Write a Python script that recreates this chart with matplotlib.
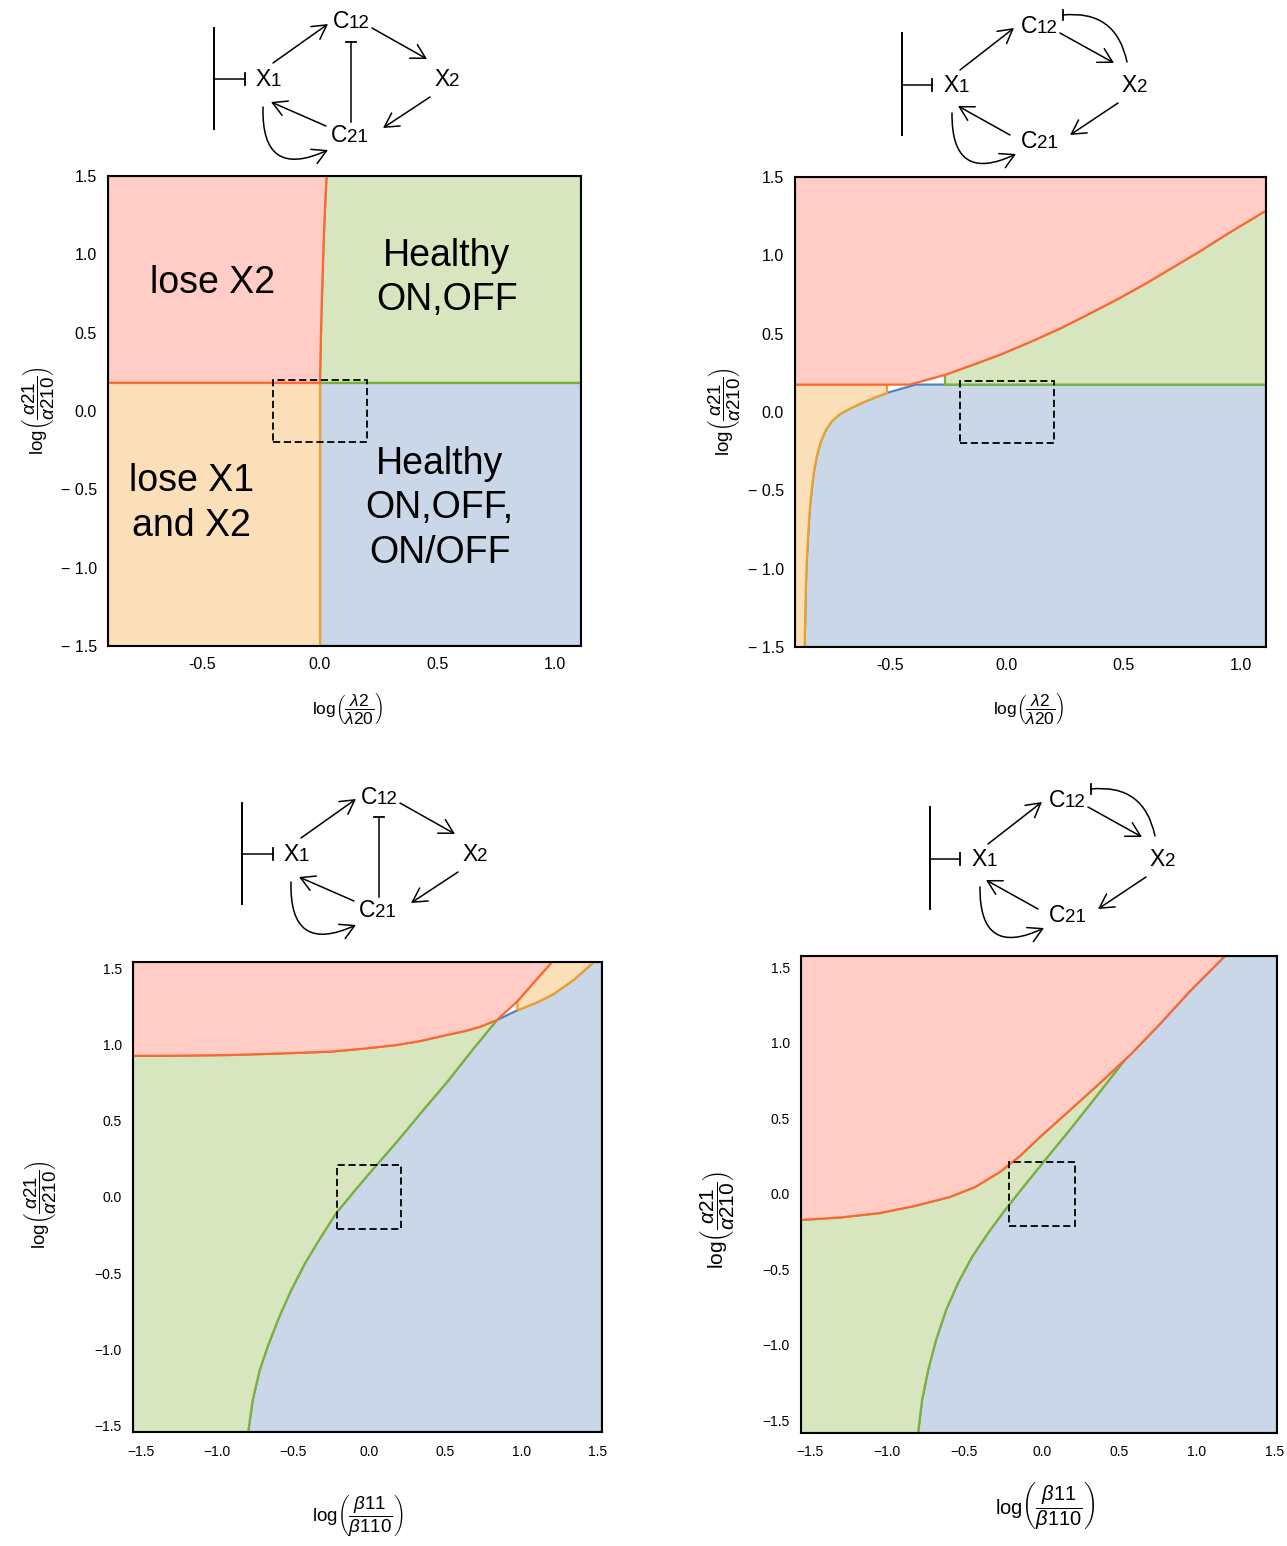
import numpy as np
import matplotlib
matplotlib.use("Agg")
import matplotlib.pyplot as plt
from matplotlib.patches import FancyArrowPatch, Rectangle

plt.rcParams['font.family'] = ['Liberation Sans', 'DejaVu Sans']
plt.rcParams['mathtext.fontset'] = 'custom'
plt.rcParams['mathtext.rm'] = 'Liberation Sans'
plt.rcParams['mathtext.it'] = 'Liberation Sans:italic'

W, H = 1287, 1546

FILL = {'red': '#FFCDC5', 'orange': '#FBDFB9', 'green': '#D8E6BF', 'blue': '#C9D7E8'}
EDGE = {'red': '#FF6633', 'orange': '#F0A023', 'green': '#7DB235', 'blue': '#4A86C4'}

# ---- panel 1: log(l2/l20) vs log(a21/a210), C21 -| C12 network
P1_XLIM = (-0.902, 1.111)
P1_YLIM = (-1.5, 1.5)
P1_SPLIT = 0.18
P1_RED_X = [0.000, 0.001, 0.003, 0.006, 0.010, 0.015, 0.021, 0.028]
P1_RED_Y = [0.18, 0.25, 0.40, 0.60, 0.80, 1.05, 1.28, 1.50]
P1_TEXT = [("lose X2", -0.455, 0.82),
           ("Healthy\nON,OFF", 0.54, 0.85),
           ("lose X1\nand X2", -0.545, -0.59),
           ("Healthy\nON,OFF,\nON/OFF", 0.51, -0.62)]

# ---- panel 2: same axes, X2 -| C12 network
P2_XLIM = (-0.906, 1.107)
P2_YLIM = (-1.5, 1.5)
P2_SPLIT = 0.175
P2_RED_X = [-0.415, -0.265, -0.150, -0.030, 0.098, 0.226, 0.346, 0.470,
            0.590, 0.709, 0.825, 0.940, 1.021, 1.107]
P2_RED_Y = [0.175, 0.237, 0.299, 0.365, 0.446, 0.532, 0.622, 0.718,
            0.817, 0.923, 1.026, 1.135, 1.208, 1.285]
P2_GREEN_X0 = -0.265
P2_ORANGE_X = [-0.513, -0.564, -0.615, -0.671, -0.714, -0.748, -0.774, -0.795,
               -0.812, -0.825, -0.835, -0.844, -0.850, -0.857, -0.861, -0.865]
P2_ORANGE_Y = [0.122, 0.093, 0.061, 0.022, -0.013, -0.058, -0.115, -0.186,
               -0.276, -0.378, -0.50, -0.641, -0.788, -0.981, -1.205, -1.5]
P2_BLUE_X = [-0.513, -0.39]
P2_BLUE_Y = [0.122, 0.175]

# ---- panel 3: log(b11/b110) vs log(a21/a210), C21 -| C12 network
P3_XLIM = (-1.553, 1.531)
P3_YLIM = (-1.546, 1.546)
P3_RED_X = [-1.553, -1.243, -0.914, -0.586, -0.257, -0.026, 0.182, 0.336,
            0.511, 0.632, 0.730, 0.840]
P3_RED_Y = [0.928, 0.930, 0.934, 0.944, 0.956, 0.977, 1.000, 1.026,
            1.066, 1.092, 1.120, 1.164]
P3_REDLINE_X = [0.840, 0.972, 1.202]
P3_REDLINE_Y = [1.164, 1.285, 1.546]
P3_GREEN_X = [0.840, 0.678, 0.507, 0.355, 0.230, 0.135, 0.020, -0.092, -0.217,
              -0.322, -0.421, -0.513, -0.592, -0.664, -0.720, -0.766, -0.796]
P3_GREEN_Y = [1.164, 0.967, 0.750, 0.572, 0.421, 0.309, 0.178, 0.046, -0.105,
              -0.270, -0.434, -0.612, -0.789, -0.974, -1.138, -1.336, -1.546]
P3_ORANGE_X = [0.978, 1.103, 1.213, 1.344, 1.476]
P3_ORANGE_Y = [1.230, 1.280, 1.336, 1.428, 1.546]

# ---- panel 4: same axes, X2 -| C12 network
P4_XLIM = (-1.555, 1.516)
P4_YLIM = (-1.583, 1.576)
P4_RED_X = [-1.555, -1.303, -1.045, -0.819, -0.594, -0.432, -0.271, -0.142,
            -0.013, 0.181, 0.374, 0.568, 0.761, 0.955, 1.180]
P4_RED_Y = [-0.172, -0.156, -0.126, -0.079, -0.020, 0.046, 0.146, 0.252,
            0.377, 0.556, 0.735, 0.921, 1.126, 1.344, 1.576]
P4_GREEN_X = [-0.800, -0.774, -0.735, -0.684, -0.619, -0.542, -0.452, -0.348,
              -0.239, -0.116, 0.019, 0.168, 0.342, 0.535]
P4_GREEN_Y = [-1.583, -1.364, -1.166, -0.967, -0.768, -0.589, -0.417, -0.258,
              -0.106, 0.053, 0.225, 0.411, 0.636, 0.889]

TOP_XT = [-0.5, 0.0, 0.5, 1.0]
TOP_XTL = ['-0.5', '0.0', '0.5', '1.0']
TOP_YT = [-1.5, -1.0, -0.5, 0.0, 0.5, 1.0, 1.5]
TOP_YTL = ['\u2212 1.5', '\u2212 1.0', '\u2212 0.5', '0.0', '0.5', '1.0', '1.5']
BOT_T = [-1.5, -1.0, -0.5, 0.0, 0.5, 1.0, 1.5]
BOT_TL = ['\u22121.5', '\u22121.0', '\u22120.5', '0.0', '0.5', '1.0', '1.5']

YLAB = r'$\log\!\left(\dfrac{\alpha21}{\alpha210}\right)$'
XLAB_L = r'$\log\!\left(\dfrac{\lambda2}{\lambda20}\right)$'
XLAB_B = r'$\log\!\left(\dfrac{\beta11}{\beta110}\right)$'

# network diagrams, in figure pixels (panel 1 / panel 2 positions)
DIAG_A = dict(
    bar=((214, 28), (214, 129)),
    inhib=((214, 79), (245, 79)),
    nodes=[('X', '1', 270.5, 86), ('C', '12', 349, 28.5),
           ('X', '2', 449.5, 86), ('C', '21', 347.5, 141.7)],
    arrows=[((273, 63), (328, 24)), ((372, 28), (427, 59)),
            ((430, 97), (383, 128)), ((326, 126), (271, 102))],
    loop=((263, 107), (328, 150), 0.8),
    tline=((351, 122), (351, 42)),
    tcurve=None)
DIAG_B = dict(
    bar=((902, 33), (902, 135)),
    inhib=((902, 85), (932, 85)),
    nodes=[('X', '1', 958.5, 91.7), ('C', '12', 1037, 33.3),
           ('X', '2', 1137, 91.7), ('C', '21', 1037, 148.3)],
    arrows=[((960, 70), (1014, 28)), ((1060, 33), (1114, 63)),
            ((1118, 103), (1070, 135)), ((1010, 135), (958, 106))],
    loop=((952, 113), (1016, 154), 0.8),
    tline=None,
    tcurve=((1127, 62), (1063, 15), 0.45))

fig = plt.figure(figsize=(W / 100, H / 100), dpi=100)


def px_axes(l, t, r, b):
    return fig.add_axes([l / W, 1 - b / H, (r - l) / W, (b - t) / H])


def region(ax, xs, ys, key, z):
    ax.fill(xs, ys, facecolor=FILL[key], edgecolor=EDGE[key], lw=1.6, zorder=z)


def style(ax, xlim, ylim, xt, xtl, yt, ytl, fs, xpad, ypad):
    ax.set_xlim(xlim)
    ax.set_ylim(ylim)
    ax.set_xticks(xt, xtl)
    ax.set_yticks(yt, ytl)
    ax.tick_params(axis='x', length=0, labelsize=fs, pad=xpad)
    ax.tick_params(axis='y', length=0, labelsize=fs, pad=ypad)
    for s in ax.spines.values():
        s.set_linewidth(1.5)
        s.set_zorder(10)


def box(ax, h):
    ax.add_patch(Rectangle((-h, -h), 2 * h, 2 * h, fill=False, ec='black',
                           lw=1.3, ls=(0, (4, 2)), zorder=6))


def label(text, x, y, size, rot=0):
    fig.text(x / W, 1 - y / H, text, fontsize=size, rotation=rot,
             ha='center', va='center')


# ---------------- panel 1
ax1 = px_axes(108, 176, 581, 646)
xl, xr = P1_XLIM
yb, yt = P1_YLIM
s = P1_SPLIT
x0 = P1_RED_X[0]
region(ax1, [x0, xr, xr, x0], [yb, yb, s, s], 'blue', 1)
region(ax1, P1_RED_X + [xr, xr], P1_RED_Y + [yt, s], 'green', 1.2)
region(ax1, [xl, x0, x0, xl], [yb, yb, s, s], 'orange', 1.4)
region(ax1, [xl] + P1_RED_X + [xl], [s] + P1_RED_Y + [yt], 'red', 1.6)
box(ax1, 0.2)
for txt, tx, ty in P1_TEXT:
    ax1.text(tx, ty, txt, fontsize=27, ha='center', va='center',
             multialignment='center', linespacing=1.3, zorder=7)
style(ax1, P1_XLIM, P1_YLIM, TOP_XT, TOP_XTL, TOP_YT, TOP_YTL, 11.5, 8, 8)

# ---------------- panel 2
ax2 = px_axes(795, 177, 1266, 647)
xl, xr = P2_XLIM
yb, yt = P2_YLIM
s = P2_SPLIT
gy = float(np.interp(P2_GREEN_X0, P2_RED_X, P2_RED_Y))
rx = np.array(P2_RED_X)
ry = np.array(P2_RED_Y)
keep = rx > P2_GREEN_X0
region(ax2, P2_ORANGE_X[::-1] + P2_BLUE_X[1:] + [xr, xr],
       P2_ORANGE_Y[::-1] + P2_BLUE_Y[1:] + [s, yb], 'blue', 1)
region(ax2, [P2_GREEN_X0, P2_GREEN_X0] + list(rx[keep]) + [xr],
       [s, gy] + list(ry[keep]) + [s], 'green', 1.2)
region(ax2, [xl, xl, P2_ORANGE_X[0]] + P2_ORANGE_X,
       [yb, s, s] + P2_ORANGE_Y, 'orange', 1.4)
region(ax2, [xl] + P2_RED_X + [xr, xl], [s] + P2_RED_Y + [yt, yt], 'red', 1.6)
box(ax2, 0.2)
style(ax2, P2_XLIM, P2_YLIM, TOP_XT, TOP_XTL, TOP_YT, TOP_YTL, 11.5, 8, 8)

# ---------------- panel 3
ax3 = px_axes(133, 962, 602, 1432)
xl, xr = P3_XLIM
yb, yt = P3_YLIM
region(ax3, P3_GREEN_X[::-1] + P3_ORANGE_X + [xr, xr],
       P3_GREEN_Y[::-1] + P3_ORANGE_Y + [yt, yb], 'blue', 1)
region(ax3, [xl] + P3_RED_X + P3_GREEN_X[1:], [yb] + P3_RED_Y + P3_GREEN_Y[1:],
       'green', 1.2)
region(ax3, P3_REDLINE_X[1:] + P3_ORANGE_X[::-1],
       P3_REDLINE_Y[1:] + P3_ORANGE_Y[::-1], 'orange', 1.4)
region(ax3, P3_RED_X + P3_REDLINE_X[1:] + [xl],
       P3_RED_Y + P3_REDLINE_Y[1:] + [yt], 'red', 1.6)
box(ax3, 0.21)
style(ax3, P3_XLIM, P3_YLIM, BOT_T, BOT_TL, BOT_T, BOT_TL, 10, 9, 8)

# ---------------- panel 4
ax4 = px_axes(801, 956, 1277, 1433)
xl, xr = P4_XLIM
yb, yt = P4_YLIM
mx = P4_GREEN_X[-1]
my = float(np.interp(mx, P4_RED_X, P4_RED_Y))
rx = np.array(P4_RED_X)
ry = np.array(P4_RED_Y)
gx = P4_GREEN_X[:-1] + [mx]
gyy = P4_GREEN_Y[:-1] + [my]
region(ax4, gx + list(rx[rx > mx]) + [xr, xr],
       gyy + list(ry[rx > mx]) + [yt, yb], 'blue', 1)
region(ax4, [xl] + list(rx[rx < mx]) + gx[::-1],
       [yb] + list(ry[rx < mx]) + gyy[::-1], 'green', 1.2)
region(ax4, P4_RED_X + [xl], P4_RED_Y + [yt], 'red', 1.6)
box(ax4, 0.21)
style(ax4, P4_XLIM, P4_YLIM, BOT_T, BOT_TL, BOT_T, BOT_TL, 10, 9, 8)

# axis labels
label(XLAB_L, 348, 708, 12.5)
label(YLAB, 38, 411, 13.5, 90)
label(XLAB_L, 1029, 708, 12.5)
label(YLAB, 724, 412, 13.5, 90)
label(XLAB_B, 358, 1515, 13.5)
label(YLAB, 40, 1205, 13.5, 90)
label(XLAB_B, 1045, 1507, 14.5)
label(YLAB, 718, 1220, 15, 90)

# ---------------- network diagrams
ov = fig.add_axes([0, 0, 1, 1])
ov.set_xlim(0, W)
ov.set_ylim(H, 0)
ov.axis('off')


def arrow(p, q, rad=0.0):
    ov.add_patch(FancyArrowPatch(p, q, arrowstyle='->,head_length=0.5,head_width=0.28',
                                 mutation_scale=20, lw=1.1, color='black',
                                 shrinkA=0, shrinkB=0,
                                 connectionstyle='arc3,rad=%g' % rad))


def diagram(d, ox, oy):
    sh = lambda p: (p[0] + ox, p[1] + oy)
    (bx, by0), (_, by1) = d['bar']
    ov.plot([bx + ox, bx + ox], [by0 + oy, by1 + oy], color='black', lw=1.4)
    (ix0, iy), (ix1, _) = d['inhib']
    ov.plot([ix0 + ox, ix1 + ox], [iy + oy, iy + oy], color='black', lw=1.1)
    ov.plot([ix1 + ox, ix1 + ox], [iy + oy - 6, iy + oy + 6], color='black', lw=1.3)
    for big, small, sx, sy in d['nodes']:
        ov.text(sx + ox, sy + oy, big, fontsize=16.5, ha='right', va='baseline')
        ov.text(sx + ox, sy + oy, small, fontsize=13.5, ha='left', va='baseline')
    for p, q in d['arrows']:
        arrow(sh(p), sh(q))
    p, q, rad = d['loop']
    arrow(sh(p), sh(q), rad)
    if d['tline'] is not None:
        (tx, ty0), (_, ty1) = d['tline']
        ov.plot([tx + ox, tx + ox], [ty0 + oy, ty1 + oy], color='black', lw=1.1)
        ov.plot([tx + ox - 5, tx + ox + 5], [ty1 + oy, ty1 + oy], color='black', lw=1.3)
    if d['tcurve'] is not None:
        p, q, rad = d['tcurve']
        ov.add_patch(FancyArrowPatch(sh(p), sh(q), arrowstyle='-', lw=1.1,
                                     color='black', shrinkA=0, shrinkB=0,
                                     connectionstyle='arc3,rad=%g' % rad))
        ov.plot([q[0] + ox, q[0] + ox], [q[1] + oy - 5, q[1] + oy + 5],
                color='black', lw=1.3)


diagram(DIAG_A, 0, 0)
diagram(DIAG_B, 0, 0)
diagram(DIAG_A, 28, 775)
diagram(DIAG_B, 28, 774)

fig.savefig("out.png", dpi=100)
